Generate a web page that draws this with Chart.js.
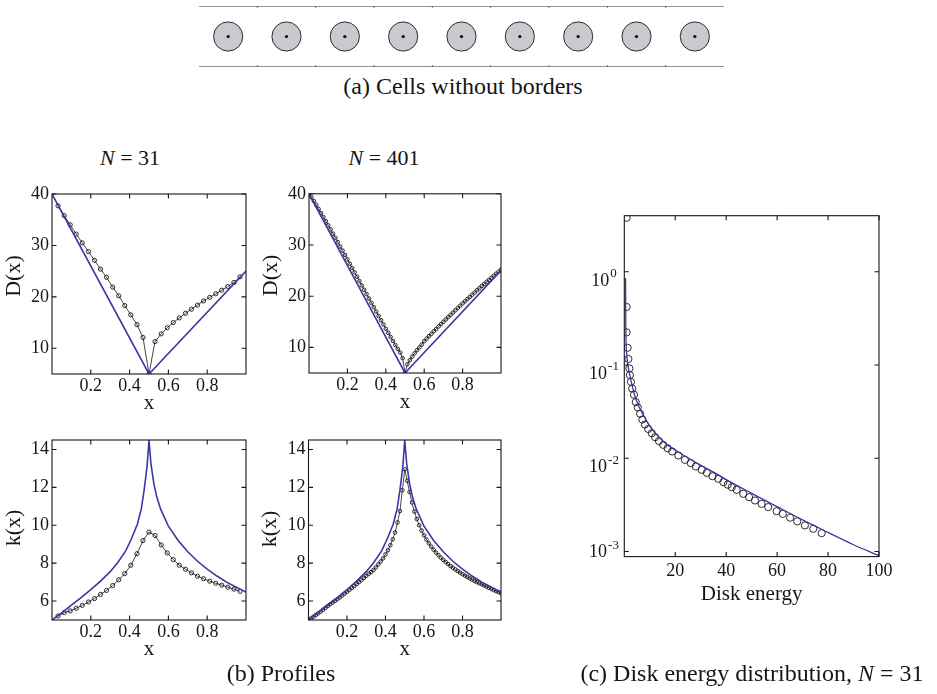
<!DOCTYPE html>
<html>
<head>
<meta charset="utf-8">
<script src="https://cdn.jsdelivr.net/npm/chart.js@4.4.1/dist/chart.umd.min.js"></script>
<style>
  html, body { margin: 0; padding: 0; background: #fff; }
  body { width: 937px; height: 694px; position: relative; overflow: hidden;
         font-family: 'Liberation Serif', 'Times New Roman', serif; color: #161616; }
  .panel { position: absolute; }
  .panel canvas { display: block; }
  .cap { position: absolute; white-space: nowrap; line-height: 1; transform: translate(-50%, -50%); }
  .cap.big { font-size: 24px; }
  .cap.mid { font-size: 22px; }
</style>
</head>
<body>

<div class="panel" style="left:190px; top:0px;"><canvas id="cells" width="540" height="72"></canvas></div>
<div class="cap big" style="left:463px; top:86px;">(a) Cells without borders</div>

<div class="cap mid" style="left:130px; top:158px;"><i>N</i>&nbsp;=&nbsp;31</div>
<div class="cap mid" style="left:384px; top:158px;"><i>N</i>&nbsp;=&nbsp;401</div>

<div class="panel" style="left:0px; top:180px;"><canvas id="d31" width="256" height="236"></canvas></div>
<div class="panel" style="left:257px; top:180px;"><canvas id="d401" width="254" height="235"></canvas></div>
<div class="panel" style="left:0px; top:426px;"><canvas id="k31" width="256" height="236"></canvas></div>
<div class="panel" style="left:257px; top:426px;"><canvas id="k401" width="254" height="236"></canvas></div>
<div class="cap big" style="left:281px; top:673px;">(b) Profiles</div>

<div class="panel" style="left:574px; top:200px;"><canvas id="energy" width="325" height="407"></canvas></div>
<div class="cap big" style="left:752px; top:673px;">(c) Disk energy distribution, <i>N</i>&nbsp;=&nbsp;31</div>

<script>
// ---- (a) channel of cells ----
const cellCenters = [0.5, 1.5, 2.5, 3.5, 4.5, 5.5, 6.5, 7.5, 8.5];
const cellEdges = [1, 2, 3, 4, 5, 6, 7, 8];
const wallEnds = [0, 9];
const wallLevels = [1, -1];

// ---- (b) profiles: axis ticks ----
const profileXTicks = [0.2, 0.4, 0.6, 0.8];
const distanceTicks = [10, 20, 30, 40];
const curvatureTicks = [6, 8, 10, 12, 14];

// continuum profiles (blue)
const dLimitX = [0, 0.5, 1];
const dLimitY = [40, 5, 25];
const kLimitX = [0, 0.05, 0.1, 0.15, 0.2, 0.25, 0.3, 0.34, 0.38, 0.41, 0.44, 0.46, 0.475, 0.49, 0.5,
                 0.51, 0.525, 0.54, 0.56, 0.58, 0.6, 0.65, 0.7, 0.75, 0.8, 0.85, 0.9, 0.95, 1];
const kLimitY = [5.0, 5.38, 5.78, 6.18, 6.6, 7.05, 7.55, 8.05, 8.65, 9.3, 10.05, 10.85, 11.85, 13.1, 14.5,
                 13.25, 12.2, 11.5, 10.85, 10.4, 9.95, 9.2, 8.6, 8.1, 7.68, 7.32, 7.0, 6.73, 6.47];

// N = 31 disks
const x31 = [0.031, 0.063, 0.094, 0.125, 0.156, 0.188, 0.219, 0.25, 0.281, 0.313, 0.344, 0.375, 0.406, 0.438, 0.469,
             0.5,
             0.531, 0.563, 0.594, 0.625, 0.656, 0.688, 0.719, 0.75, 0.781, 0.813, 0.844, 0.875, 0.906, 0.938, 0.969];
const d31 = [37.7, 35.8, 34.0, 32.2, 30.5, 28.8, 27.1, 25.4, 23.8, 21.9, 20.2, 18.3, 16.5, 14.6, 12.1,
             5.0,
             11.3, 12.8, 14.0, 15.0, 15.9, 16.8, 17.6, 18.4, 19.2, 19.9, 20.6, 21.3, 22.0, 22.8, 23.9];
const k31 = [5.21, 5.39, 5.48, 5.62, 5.77, 5.95, 6.13, 6.35, 6.56, 6.82, 7.12, 7.45, 7.89, 8.5, 9.19,
             9.64,
             9.46, 8.96, 8.54, 8.19, 7.89, 7.68, 7.49, 7.31, 7.18, 7.05, 6.94, 6.84, 6.73, 6.63, 6.51];

// N = 401 disks (every fifth disk shown)
const x401 = [0, 0.0125, 0.025, 0.0375, 0.05, 0.0625, 0.075, 0.0875, 0.1, 0.1125, 0.125, 0.1375, 0.15, 0.1625,
              0.175, 0.1875, 0.2, 0.2125, 0.225, 0.2375, 0.25, 0.2625, 0.275, 0.2875, 0.3, 0.3125, 0.325, 0.3375,
              0.35, 0.3625, 0.375, 0.3875, 0.4, 0.4125, 0.425, 0.4375, 0.45, 0.4625, 0.475, 0.4875, 0.5,
              0.5125, 0.525, 0.5375, 0.55, 0.5625, 0.575, 0.5875, 0.6, 0.6125, 0.625, 0.6375, 0.65, 0.6625,
              0.675, 0.6875, 0.7, 0.7125, 0.725, 0.7375, 0.75, 0.7625, 0.775, 0.7875, 0.8, 0.8125, 0.825, 0.8375,
              0.85, 0.8625, 0.875, 0.8875, 0.9, 0.9125, 0.925, 0.9375, 0.95, 0.9625, 0.975, 0.9875, 1];
const d401 = [40, 39.35, 38.6, 37.85, 37.05, 36.25, 35.45, 34.65, 33.85, 33.05, 32.2, 31.4, 30.55, 29.7,
              28.9, 28.05, 27.2, 26.35, 25.5, 24.65, 23.8, 22.95, 22.1, 21.25, 20.4, 19.55, 18.7, 17.85,
              17.0, 16.15, 15.3, 14.5, 13.65, 12.85, 12.05, 11.25, 10.45, 9.7, 9.0, 7.9, 5.0,
              6.7, 7.5, 8.2, 8.85, 9.45, 10.0, 10.55, 11.2, 11.7, 12.2, 12.65, 13.15, 13.6,
              14.1, 14.55, 15.0, 15.45, 15.9, 16.35, 16.8, 17.25, 17.7, 18.15, 18.6, 19.0, 19.45, 19.85,
              20.3, 20.7, 21.15, 21.55, 22.0, 22.4, 22.8, 23.2, 23.6, 24.0, 24.4, 24.8, 25.2];
const k401 = [5.0, 5.08, 5.17, 5.26, 5.35, 5.44, 5.54, 5.64, 5.74, 5.83, 5.92, 6.01, 6.1, 6.19,
              6.29, 6.39, 6.49, 6.59, 6.69, 6.79, 6.9, 7.0, 7.11, 7.22, 7.33, 7.44, 7.53, 7.64,
              7.78, 7.93, 8.09, 8.25, 8.46, 8.68, 8.95, 9.26, 9.62, 10.15, 10.75, 11.85, 12.95,
              12.35, 11.75, 11.2, 10.72, 10.33, 10.0, 9.72, 9.47, 9.25, 9.05, 8.87, 8.71, 8.56,
              8.42, 8.29, 8.17, 8.06, 7.95, 7.85, 7.76, 7.67, 7.58, 7.5, 7.42, 7.34, 7.27, 7.2,
              7.13, 7.06, 7.0, 6.94, 6.88, 6.82, 6.76, 6.7, 6.64, 6.58, 6.52, 6.47, 6.42];

// ---- (c) disk energy distribution, N = 31 ----
const energyTicks = [20, 40, 60, 80, 100];
const fractionTicks = [0.001, 0.01, 0.1, 1];
const energyCurveX = [0.5, 0.55, 0.6, 0.7, 0.9, 1.2, 1.6, 2.2, 2.9, 4, 5.5, 7.5, 9.4, 12, 16, 22.5, 29, 35,
                      40, 50, 60, 70, 80, 90, 100];
const energyCurveY = [0.86, 0.4, 0.25, 0.17, 0.135, 0.11, 0.094, 0.077, 0.063, 0.048, 0.037, 0.029, 0.0235,
                      0.0188, 0.0146, 0.0111, 0.0087, 0.0071, 0.0059, 0.0042, 0.00302, 0.00218, 0.0016, 0.00118, 0.0009];
const energyPointsX = [0.9, 0.9, 0.9, 1.3, 1.6, 2.0, 2.2, 2.6, 3.1, 3.8, 4.5, 5.3, 6.2, 7.1, 8.1, 9.4, 10.8,
                       12.1, 13.6, 15.3, 17.0, 18.8, 21.2, 23.8, 26.1, 28.1, 30.4, 32.4, 34.6, 36.9, 38.9, 40.6,
                       42.2, 44.1, 46.7, 49.0, 51.3, 53.9, 56.5, 59.8, 62.2, 65.1, 67.9, 70.9, 74.2, 77.5];
const energyPointsY = [3.8, 0.42, 0.224, 0.153, 0.116, 0.092, 0.078, 0.066, 0.056, 0.048, 0.040, 0.035, 0.030,
                       0.026, 0.023, 0.0206, 0.0185, 0.0168, 0.0153, 0.0139, 0.0128, 0.0118, 0.0107, 0.0096,
                       0.00885, 0.00815, 0.00751, 0.00697, 0.00641, 0.00601, 0.00553, 0.0052, 0.00489, 0.00458,
                       0.00415, 0.00382, 0.00352, 0.00324, 0.00299, 0.0027, 0.00253, 0.0023, 0.0021, 0.0019,
                       0.00175, 0.00157];

const INK = '#161616';
const BLUE = '#3b36a8';
const SERIF = "'Liberation Serif', 'Times New Roman', serif";

Chart.defaults.font.family = SERIF;
Chart.defaults.color = INK;
Chart.defaults.animation = false;
Chart.defaults.layout.autoPadding = false;

const pts = (xs, ys) => xs.map((x, i) => ({ x, y: ys[i] }));
const fixTicks = values => scale => { scale.ticks = values.map(v => ({ value: v })); };

// Boxed axes with inward tick marks, rotated y titles and power-of-ten labels
const boxedAxes = {
  id: 'boxedAxes',
  afterDraw(chart, args, opts) {
    if (!opts || !opts.on) return;
    const { ctx, chartArea: a } = chart;
    const xs = chart.scales.x, ys = chart.scales.y;
    const L = 4.5;
    ctx.save();
    ctx.strokeStyle = INK;
    ctx.lineWidth = 1.1;
    ctx.strokeRect(a.left, a.top, a.right - a.left, a.bottom - a.top);
    ctx.beginPath();
    xs.ticks.forEach(t => {
      const p = xs.getPixelForValue(t.value);
      ctx.moveTo(p, a.bottom); ctx.lineTo(p, a.bottom - L);
      ctx.moveTo(p, a.top); ctx.lineTo(p, a.top + L);
    });
    ys.ticks.forEach(t => {
      const p = ys.getPixelForValue(t.value);
      ctx.moveTo(a.left, p); ctx.lineTo(a.left + L, p);
      ctx.moveTo(a.right, p); ctx.lineTo(a.right - L, p);
    });
    ctx.stroke();

    ctx.fillStyle = INK;
    if (opts.yTitle) {
      const t = opts.yTitle;
      ctx.save();
      ctx.font = t.size + 'px ' + SERIF;
      ctx.textAlign = 'center';
      ctx.textBaseline = 'middle';
      ctx.translate(a.left + t.dx, (a.top + a.bottom) / 2 + t.dy);
      ctx.rotate(-Math.PI / 2);
      ctx.fillText(t.text, 0, 0);
      ctx.restore();
    }
    if (opts.powers) {
      const cx = opts.powers.cx;
      ys.ticks.forEach(t => {
        const p = ys.getPixelForValue(t.value);
        const exp = String(Math.round(Math.log10(t.value)));
        const baseY = p + Math.min(9, a.bottom - p - 4);
        ctx.font = '18px ' + SERIF;
        const wb = ctx.measureText('10').width;
        ctx.font = '13px ' + SERIF;
        const we = ctx.measureText(exp).width;
        const x0 = cx - (wb + 1 + we) / 2;
        ctx.textAlign = 'left';
        ctx.textBaseline = 'middle';
        ctx.font = '18px ' + SERIF;
        ctx.fillText('10', x0, baseY);
        ctx.font = '13px ' + SERIF;
        ctx.fillText(exp, x0 + wb + 1, baseY - 7);
      });
    }
    ctx.restore();
  }
};
Chart.register(boxedAxes);

// (a) cells in a channel
new Chart(document.getElementById('cells'), {
  type: 'scatter',
  data: {
    datasets: [
      { data: cellCenters.map(x => ({ x, y: 0 })), pointRadius: 1.6, pointBackgroundColor: '#000',
        pointBorderWidth: 0, order: 0 },
      { data: cellCenters.map(x => ({ x, y: 0 })), pointRadius: 14.6, pointBackgroundColor: '#c8cad0',
        pointBorderColor: '#2b2b2b', pointBorderWidth: 1, order: 1 },
      { data: cellEdges.flatMap(x => wallLevels.map(y => ({ x, y }))), pointStyle: 'line', pointRotation: 90,
        pointRadius: 1.5, pointBorderColor: '#444', pointBorderWidth: 1, order: 2 },
      { data: wallEnds.map(x => ({ x, y: wallLevels[0] })), showLine: true, borderColor: '#333',
        borderWidth: 1, pointRadius: 0, order: 3 },
      { data: wallEnds.map(x => ({ x, y: wallLevels[1] })), showLine: true, borderColor: '#333',
        borderWidth: 1, pointRadius: 0, order: 4 }
    ]
  },
  options: {
    responsive: false, animation: false, events: [],
    layout: { autoPadding: false, padding: { left: 9, right: 6, top: 6.2, bottom: 5.2 } },
    plugins: { legend: { display: false }, tooltip: { enabled: false } },
    scales: {
      x: { type: 'linear', min: 0, max: 9, display: false },
      y: { type: 'linear', min: -1, max: 1, display: false }
    }
  }
});

// (b) one profile panel
function profilePanel(id, cfg) {
  return new Chart(document.getElementById(id), {
    type: 'line',
    data: {
      datasets: [
        { data: pts(cfg.limitX, cfg.limitY), borderColor: BLUE, borderWidth: 1.6, pointRadius: 0,
          tension: 0, order: 0 },
        { data: pts(cfg.dotX, cfg.dotY), borderColor: INK, borderWidth: 0.8, tension: 0,
          pointRadius: cfg.r, pointBorderColor: INK, pointBackgroundColor: 'rgba(255,255,255,0)',
          pointBorderWidth: 0.9, order: 1 }
      ]
    },
    options: {
      responsive: false, animation: false, events: [],
      layout: { autoPadding: false, padding: { left: 0, right: 10, top: cfg.padTop, bottom: 0 } },
      plugins: {
        legend: { display: false }, tooltip: { enabled: false },
        boxedAxes: { on: true, yTitle: { text: cfg.yTitle, size: 22, dx: cfg.titleDx, dy: cfg.titleDy } }
      },
      scales: {
        x: {
          type: 'linear', min: 0, max: 1,
          grid: { display: false, drawTicks: false }, border: { display: false },
          afterBuildTicks: fixTicks(profileXTicks),
          afterFit: s => { s.height = 42; },
          ticks: { font: { size: 18 }, padding: 1.5, maxRotation: 0, autoSkip: false, color: INK,
                   callback: v => String(v) },
          title: { display: true, text: 'x', font: { size: 21 }, padding: { top: 0, bottom: 0 }, color: INK }
        },
        y: {
          type: 'linear', min: cfg.yMin, max: cfg.yMax,
          grid: { display: false, drawTicks: false }, border: { display: false },
          afterBuildTicks: fixTicks(cfg.yTicks),
          afterFit: s => { s.width = cfg.yAxisW; },
          ticks: { font: { size: 18 }, padding: 3, autoSkip: false, color: INK, callback: v => String(v) }
        }
      }
    }
  });
}

profilePanel('d31', { limitX: dLimitX, limitY: dLimitY, dotX: x31, dotY: d31, r: 2.1,
  yMin: 5, yMax: 40, yTicks: distanceTicks, yTitle: 'D(x)', padTop: 14, yAxisW: 52, titleDx: -38, titleDy: -8 });
profilePanel('d401', { limitX: dLimitX, limitY: dLimitY, dotX: x401, dotY: d401, r: 1.8,
  yMin: 5, yMax: 40, yTicks: distanceTicks, yTitle: 'D(x)', padTop: 13, yAxisW: 52, titleDx: -37.7, titleDy: -8 });
profilePanel('k31', { limitX: kLimitX, limitY: kLimitY, dotX: x31, dotY: k31, r: 2.1,
  yMin: 5, yMax: 14.5, yTicks: curvatureTicks, yTitle: 'k(x)', padTop: 14, yAxisW: 52, titleDx: -37.3, titleDy: -2 });
profilePanel('k401', { limitX: kLimitX, limitY: kLimitY, dotX: x401, dotY: k401, r: 1.8,
  yMin: 5, yMax: 14.5, yTicks: curvatureTicks, yTitle: 'k(x)', padTop: 14, yAxisW: 51.5, titleDx: -38, titleDy: -1 });

// (c) energy distribution on a log axis
new Chart(document.getElementById('energy'), {
  type: 'line',
  data: {
    datasets: [
      { data: pts(energyCurveX, energyCurveY), borderColor: BLUE, borderWidth: 1.3, pointRadius: 0,
        cubicInterpolationMode: 'monotone', order: 0 },
      { data: pts(energyPointsX, energyPointsY), showLine: false, pointRadius: 3.6, pointBorderColor: INK,
        pointBackgroundColor: 'rgba(255,255,255,0)', pointBorderWidth: 0.9, order: 1 }
    ]
  },
  options: {
    responsive: false, animation: false, events: [],
    layout: { autoPadding: false, padding: { left: 0, right: 20, top: 15.7, bottom: 0 } },
    plugins: {
      legend: { display: false }, tooltip: { enabled: false },
      boxedAxes: { on: true, powers: { cx: 30 } }
    },
    scales: {
      x: {
        type: 'linear', min: 0, max: 100,
        grid: { display: false, drawTicks: false }, border: { display: false },
        afterBuildTicks: fixTicks(energyTicks),
        afterFit: s => { s.height = 50.4; },
        ticks: { font: { size: 18 }, padding: 4.2, maxRotation: 0, autoSkip: false, color: INK,
                 callback: v => String(v) },
        title: { display: true, text: 'Disk energy', font: { size: 21 }, padding: { top: 0, bottom: 0 }, color: INK }
      },
      y: {
        type: 'logarithmic', min: 0.00088, max: 4,
        grid: { display: false, drawTicks: false }, border: { display: false },
        afterBuildTicks: fixTicks(fractionTicks),
        afterFit: s => { s.width = 50.3; },
        ticks: { display: false }
      }
    }
  }
});
</script>
</body>
</html>
